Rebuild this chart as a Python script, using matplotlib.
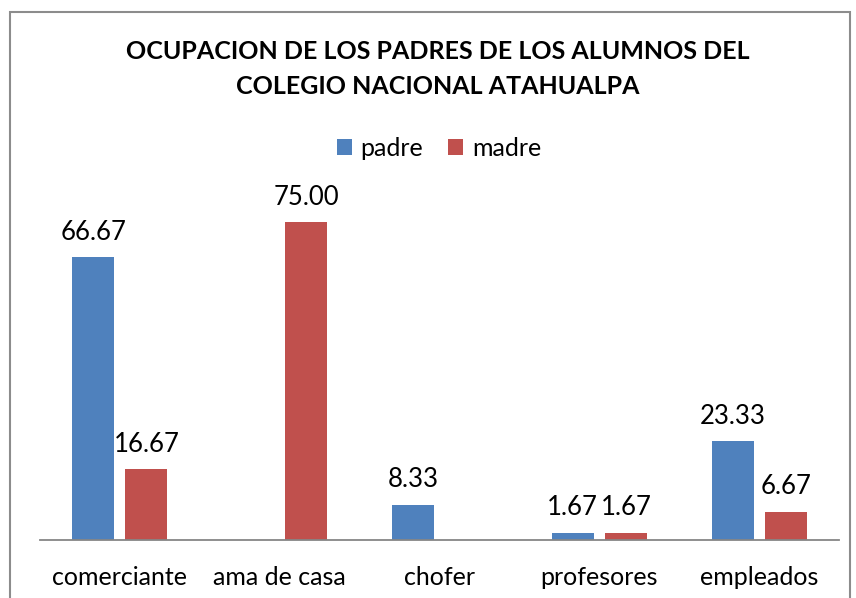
import matplotlib
matplotlib.use("Agg")
import matplotlib.pyplot as plt
import numpy as np
from matplotlib.patches import Rectangle

plt.rcParams['font.family'] = ['Lato', 'DejaVu Sans']

categorias = ['comerciante', 'ama de casa', 'chofer', 'profesores', 'empleados']
padre = [66.67, 0, 8.33, 1.67, 23.33]
madre = [16.67, 75.00, 0, 1.67, 6.67]
titulo = 'OCUPACION DE LOS PADRES DE LOS ALUMNOS DEL\nCOLEGIO NACIONAL ATAHUALPA'

azul = '#4F81BD'
rojo = '#C0504D'

fig = plt.figure(figsize=(8.56, 5.98), dpi=100)
# marco gris del grafico
fig.patches.append(Rectangle((10 / 856, -0.05), 840 / 856, 1 - 12 / 598 + 0.05,
                             transform=fig.transFigure, fill=False,
                             edgecolor='#8c8c8c', linewidth=1.5))

ax = fig.add_axes([40 / 856, 58 / 598, 799 / 856, 339 / 598])
x = np.arange(len(categorias))
ancho = 0.263
off = 0.166
b1 = ax.bar(x - off, padre, ancho, color=azul, label='padre')
b2 = ax.bar(x + off, madre, ancho, color=rojo, label='madre')

for barras, vals in ((b1, padre), (b2, madre)):
    for b, v in zip(barras, vals):
        if v == 0:
            continue
        ax.annotate(f'{v:.2f}', (b.get_x() + b.get_width() / 2, v),
                    xytext=(0, 9), textcoords='offset points',
                    ha='center', va='bottom', fontsize=18.5)

ax.set_xlim(-0.5, len(categorias) - 0.5)
ax.set_ylim(0, 80)
ax.set_xticks(x)
ax.set_xticklabels(categorias, fontsize=18)
ax.tick_params(axis='x', length=0, pad=19)
ax.set_yticks([])
for s in ('top', 'right', 'left'):
    ax.spines[s].set_visible(False)
ax.spines['bottom'].set_color('#868686')
ax.spines['bottom'].set_linewidth(1.3)

fig.text(438 / 856, 1 - 69 / 598, titulo, ha='center', va='center',
         fontsize=18, fontweight='bold', linespacing=1.62)

fig.legend(handles=[b1, b2], labels=['padre', 'madre'], loc='center',
           bbox_to_anchor=(439 / 856, 1 - 148 / 598), ncol=2, frameon=False,
           fontsize=18, handlelength=0.6, handleheight=0.6,
           handletextpad=0.35, columnspacing=1.0)

fig.savefig('out.png', dpi=100)
